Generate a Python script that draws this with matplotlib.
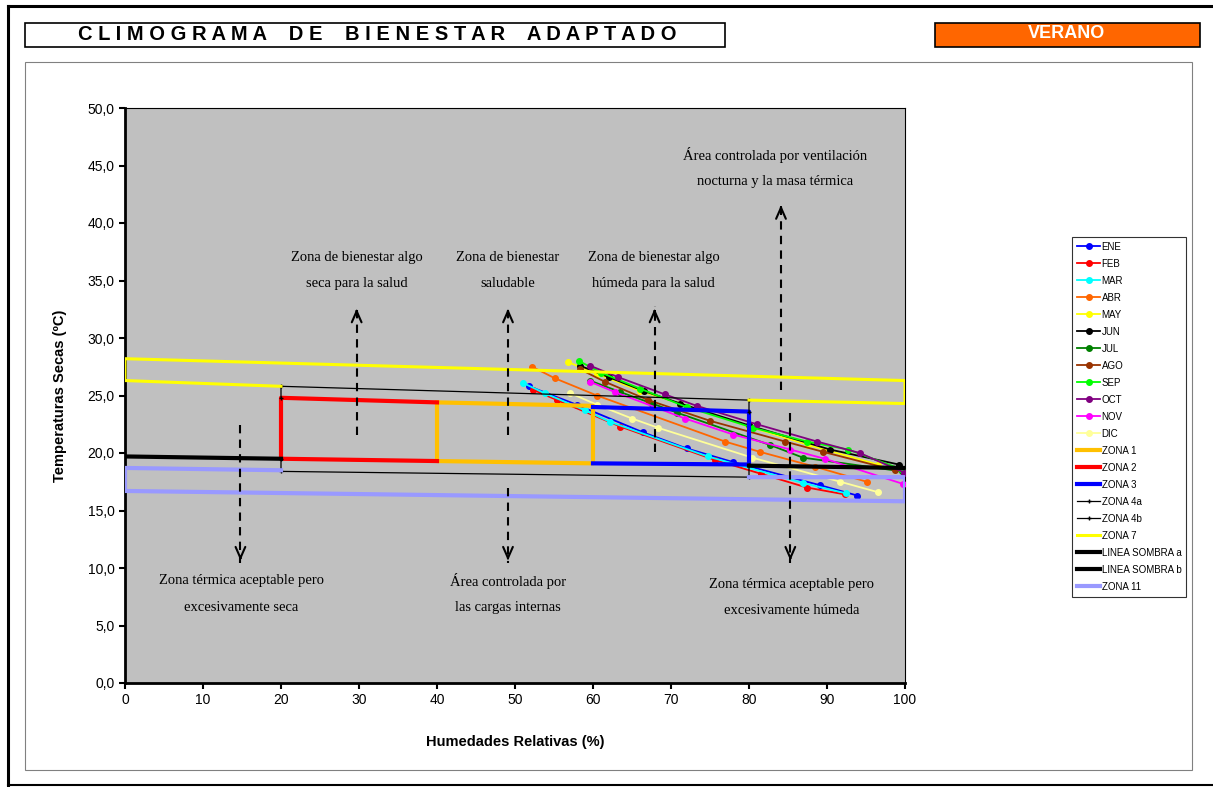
import matplotlib.pyplot as plt
from matplotlib.patches import Rectangle
from matplotlib.lines import Line2D

W, H = 1213, 787

# humedad relativa (%) y temperatura seca (ºC) de cada mes
hr_ene = [51.8, 57.9, 66.4, 72.0, 78.0, 89.1, 93.9]
t_ene = [25.8, 24.2, 21.8, 20.4, 19.2, 17.2, 16.3]
hr_feb = [52.3, 55.4, 63.5, 75.6, 81.5, 87.4, 92.3]
t_feb = [25.5, 24.6, 22.3, 19.4, 18.2, 17.0, 16.4]
hr_mar = [51.0, 53.8, 59.0, 62.2, 74.7, 86.9, 92.4]
t_mar = [26.1, 25.2, 23.7, 22.7, 19.7, 17.4, 16.5]
hr_abr = [52.2, 55.1, 60.5, 76.9, 81.4, 88.5, 95.1]
t_abr = [27.5, 26.5, 25.0, 21.0, 20.1, 18.8, 17.5]
hr_may = [56.8, 60.5, 66.0, 71.2, 80.0, 87.6, 96.5]
t_may = [27.9, 26.9, 25.4, 24.3, 22.3, 20.7, 19.0]
hr_jun = [58.3, 62.0, 66.5, 71.2, 80.0, 90.4, 99.2]
t_jun = [27.6, 26.6, 25.4, 24.3, 22.4, 20.3, 19.0]
hr_jul = [59.6, 63.5, 67.6, 70.8, 82.7, 86.9, 99.6]
t_jul = [26.3, 25.3, 24.3, 23.5, 20.7, 19.6, 18.4]
hr_ago = [58.3, 61.5, 67.1, 75.0, 84.6, 89.5, 98.7]
t_ago = [27.3, 26.2, 24.6, 22.8, 21.0, 20.1, 18.5]
hr_sep = [58.2, 61.0, 66.0, 72.0, 80.5, 87.4, 92.7, 99.5]
t_sep = [28.0, 27.0, 25.6, 24.0, 22.2, 21.0, 20.3, 18.6]
hr_oct = [59.6, 63.2, 69.2, 73.3, 81.0, 88.7, 94.2, 99.9]
t_oct = [27.6, 26.6, 25.1, 24.1, 22.5, 21.0, 20.0, 18.3]
hr_nov = [59.6, 62.8, 71.8, 78.0, 85.3, 89.7, 99.8]
t_nov = [26.2, 25.3, 23.0, 21.6, 20.3, 19.5, 17.3]
hr_dic = [57.1, 60.5, 65.0, 68.3, 80.4, 91.7, 96.5]
t_dic = [25.2, 24.2, 23.0, 22.2, 19.6, 17.5, 16.6]

months = ["ENE", "FEB", "MAR", "ABR", "MAY", "JUN",
          "JUL", "AGO", "SEP", "OCT", "NOV", "DIC"]
month_colors = ["#0000FF", "#FF0000", "#00FFFF", "#FF6600", "#FFFF00", "#000000",
                "#008000", "#993300", "#00FF00", "#800080", "#FF00FF", "#FFFF99"]
month_hr = [hr_ene, hr_feb, hr_mar, hr_abr, hr_may, hr_jun,
            hr_jul, hr_ago, hr_sep, hr_oct, hr_nov, hr_dic]
month_t = [t_ene, t_feb, t_mar, t_abr, t_may, t_jun,
           t_jul, t_ago, t_sep, t_oct, t_nov, t_dic]

# zonas del climograma
zona1_hr = [40, 60, 60, 40, 40]
zona1_t = [24.4, 24.1, 19.1, 19.3, 24.4]
zona2_hr = [40, 20, 20, 40]
zona2_t = [24.4, 24.8, 19.5, 19.3]
zona3_hr = [60, 80, 80, 60]
zona3_t = [24.0, 23.6, 19.0, 19.1]
zona4a_hr = [20, 20, 80, 80]
zona4a_t = [24.8, 25.8, 24.6, 23.6]
zona4b_hr = [20, 20, 80, 80]
zona4b_t = [19.5, 18.4, 17.9, 19.0]
zona7_hr = [20, 0, 0, 100, 100, 80]
zona7_t = [25.8, 26.3, 28.2, 26.3, 24.3, 24.6]
sombra_a_hr = [0, 20]
sombra_a_t = [19.7, 19.5]
sombra_b_hr = [80, 100]
sombra_b_t = [18.9, 18.7]
zona11_hr = [20, 0, 0, 100, 100, 80]
zona11_t = [18.5, 18.7, 16.7, 15.8, 17.9, 17.9]

y_ticks = [0, 5, 10, 15, 20, 25, 30, 35, 40, 45, 50]
y_labels = ["0,0", "5,0", "10,0", "15,0", "20,0", "25,0",
            "30,0", "35,0", "40,0", "45,0", "50,0"]
x_ticks = [0, 10, 20, 30, 40, 50, 60, 70, 80, 90, 100]

# flechas: (hr, t inicio, t punta)
arrows = [(14.8, 22.4, 10.4), (29.7, 21.6, 32.8), (49.1, 21.6, 32.8),
          (49.1, 17.0, 10.4), (67.9, 20.1, 32.8), (84.1, 25.5, 41.8),
          (85.3, 23.5, 10.4)]

# rótulos de zonas: (hr, t, texto)
notes = [
    (29.7, 37.0, "Zona de bienestar algo"), (29.7, 34.7, "seca para la salud"),
    (49.1, 37.0, "Zona de bienestar"), (49.1, 34.7, "saludable"),
    (67.8, 37.0, "Zona de bienestar algo"), (67.8, 34.7, "húmeda para la salud"),
    (83.3, 45.9, "Área controlada por ventilación"), (83.3, 43.6, "nocturna y la masa térmica"),
    (14.9, 8.9, "Zona térmica aceptable pero"), (14.9, 6.6, "excesivamente seca"),
    (49.1, 8.9, "Área controlada por"), (49.1, 6.6, "las cargas internas"),
    (85.5, 8.6, "Zona térmica aceptable pero"), (85.5, 6.3, "excesivamente húmeda"),
]

plt.rcParams['font.family'] = ['Liberation Sans', 'DejaVu Sans']

fig = plt.figure(figsize=(W / 100, H / 100), dpi=100)


def fx(px):
    return px / W


def fy(py):
    return 1 - py / H


# marco exterior y cajas de cabecera
fig.add_artist(Line2D([fx(8), fx(W)], [fy(6), fy(6)], color="black", lw=2.2))
fig.add_artist(Line2D([fx(8), fx(8)], [fy(6), fy(H)], color="black", lw=2.2))
fig.add_artist(Line2D([fx(8), fx(W)], [fy(785), fy(785)], color="black", lw=1.5))
fig.add_artist(Rectangle((fx(25), fy(47)), fx(700), 24 / H, facecolor="white",
                         edgecolor="black", lw=1.2))
fig.text(fx(377), fy(35), "C L I M O G R A M A    D E    B I E N E S T A R    A D A P T A D O",
         ha="center", va="center", fontsize=14.5, fontweight="bold")
fig.add_artist(Rectangle((fx(935), fy(47)), fx(265), 24 / H, facecolor="#FF6600",
                         edgecolor="black", lw=1.2))
fig.text(fx(1067), fy(34), "VERANO", ha="center", va="center", fontsize=13,
         fontweight="bold", color="white")
fig.add_artist(Rectangle((fx(25), fy(770)), fx(1167), 708 / H, facecolor="white",
                         edgecolor="#808080", lw=0.8, zorder=-5))

ax = fig.add_axes([fx(125), fy(683), fx(780), 575 / H])
ax.set_facecolor("#C0C0C0")
ax.set_xlim(0, 100)
ax.set_ylim(0, 50)
ax.set_xticks(x_ticks)
ax.set_yticks(y_ticks)
ax.set_yticklabels(y_labels)
ax.tick_params(labelsize=10, length=4, width=1.5, direction="out")
for side in ["left", "bottom"]:
    ax.spines[side].set_linewidth(2)
for side in ["top", "right"]:
    ax.spines[side].set_linewidth(0.8)
ax.set_xlabel("Humedades Relativas (%)", fontsize=10.5, fontweight="bold", labelpad=20)
ax.set_ylabel("Temperaturas Secas (ºC)", fontsize=10.5, fontweight="bold", labelpad=15)

for name, col, hr, t in zip(months, month_colors, month_hr, month_t):
    ax.plot(hr, t, color=col, lw=1.3, marker="o", ms=4, label=name, zorder=3)

ax.plot(zona1_hr, zona1_t, color="#FFC000", lw=3, label="ZONA 1", zorder=4)
ax.plot(zona2_hr, zona2_t, color="#FF0000", lw=3, label="ZONA 2", zorder=4)
ax.plot(zona3_hr, zona3_t, color="#0000FF", lw=3, label="ZONA 3", zorder=4)
ax.plot(zona4a_hr, zona4a_t, color="black", lw=0.9, marker="+", ms=3,
        label="ZONA 4a", zorder=4)
ax.plot(zona4b_hr, zona4b_t, color="black", lw=0.9, marker="+", ms=3,
        label="ZONA 4b", zorder=4)
ax.plot(zona7_hr, zona7_t, color="#FFFF00", lw=2.2, label="ZONA 7", zorder=4)
ax.plot(sombra_a_hr, sombra_a_t, color="black", lw=3, label="LINEA SOMBRA a", zorder=4)
ax.plot(sombra_b_hr, sombra_b_t, color="black", lw=3, label="LINEA SOMBRA b", zorder=4)
ax.plot(zona11_hr, zona11_t, color="#9999FF", lw=3, label="ZONA 11", zorder=4)

for x, y0, y1 in arrows:
    ax.plot([x, x], [y0, y1], color="black", lw=1.5, ls=(0, (4, 3)), zorder=5)
    step = 0.8 if y1 > y0 else -0.8
    ax.annotate("", xy=(x, y1), xytext=(x, y1 - step),
                arrowprops=dict(arrowstyle="->,head_width=0.35,head_length=0.8",
                                color="black", lw=1.5), zorder=5)

for x, y, s in notes:
    ax.text(x, y, s, ha="center", va="center", fontsize=10.5,
            family=["Liberation Serif", "DejaVu Serif"], zorder=6)

leg = ax.legend(loc="upper left", bbox_to_anchor=(fx(1072), fy(237)),
                bbox_transform=fig.transFigure, fontsize=7, frameon=True,
                fancybox=False, edgecolor="black", handlelength=2.4,
                labelspacing=0.72, borderpad=0.5, handletextpad=0.15,
                borderaxespad=0)
leg.get_frame().set_linewidth(0.8)

fig.savefig("out.png", dpi=100)
